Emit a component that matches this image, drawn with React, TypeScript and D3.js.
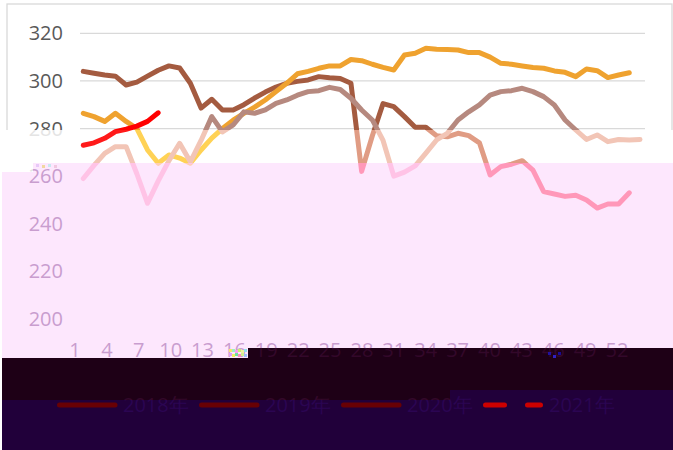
import React from 'react';
import * as d3 from 'd3';

const weekCategories: string[] = d3.range(1, 54).map(String);
const tickLabels: string[] = ['1', '4', '7', '10', '13', '16', '19', '22', '25', '28', '31', '34', '37', '40', '43', '46', '49', '52'];
const yTickValues: number[] = [200, 220, 240, 260, 280, 300, 320];
const legendNames: string[] = ['2018年', '2019年', '2020年', '2021年'];

const s2018: number[] = [304, 303.2, 302.5, 302, 298.3, 299.5, 302, 304.5, 306.3, 305.4, 299, 288.6, 292.3, 287.8, 287.8, 290, 292.8, 295.3, 297.4, 299, 299.8, 300.4, 301.8, 301.3, 301, 299, 262, 277, 290.5, 289.2, 285, 280.5, 280.5, 277, 276.5, 278, 277, 274, 260.5, 264, 265, 266.5, 262.5, 253.5, 252.5, 251.5, 252, 250, 246.6, 248.3, 248.3, 253];
const s2019: number[] = [286.4, 285, 283, 286.4, 283, 280, 271, 265.4, 268.9, 267.6, 265.4, 271, 276, 280, 283.5, 286.4, 289, 292, 295.5, 299, 303, 304, 305.3, 306.3, 306.3, 309, 308.5, 307, 305.7, 304.6, 310.9, 311.6, 313.7, 313.3, 313.2, 313, 311.9, 311.9, 310, 307.4, 307, 306.3, 305.6, 305.3, 304.2, 303.6, 301.8, 305, 304.3, 301.4, 302.5, 303.4];
const s2020: number[] = [259, 264.5, 269.6, 272.4, 272.4, 261, 248.6, 258, 266.5, 273.8, 266, 275, 285, 278.6, 281.5, 287, 286.4, 287.8, 290.6, 292, 294, 295.5, 295.9, 297.3, 296.4, 292.7, 287.8, 283.6, 275, 260, 261.7, 264.3, 269.7, 275.2, 278, 283.6, 287, 289.9, 294, 295.5, 295.9, 296.9, 295.5, 293.4, 289.9, 283.6, 279.4, 275.4, 277.3, 274.5, 275.4, 275.2, 275.4];
const s2021: number[] = [273, 274, 275.9, 278.7, 279.7, 281, 283, 286.6];
const allSeries: number[][] = [s2018, s2019, s2020, s2021];

const W = 673;
const H = 450;
const FONT = "'Open Sans', 'Noto Sans', sans-serif";

const x = d3.scalePoint<string>().domain(weekCategories).range([83.3, 640]);
const xLabel = d3.scalePoint<string>().domain(weekCategories).range([75, 627.6]);
const y = d3.scaleLinear().domain([200, 320]).range([319, 33.3]);
const line = d3
  .line<number>()
  .x((_d, i) => x(String(i + 1)) as number)
  .y((d) => y(d));

type Palette = {
  bg: string;
  grid: string;
  text: string;
  border: string;
  lines: string[];
  legendLines: string[];
  legendText: string;
};

const palA: Palette = {
  bg: '#FFFFFF', grid: '#D9D9D9', text: '#595959', border: '#D9D9D9',
  lines: ['#A45B40', '#EFA22F', '#B6897F', '#FF0000'],
  legendLines: ['#A45B40', '#EFA22F', '#B6897F', '#FF0000'], legendText: '#595959',
};
const palB: Palette = {
  bg: '#FFFFFF', grid: '#EEEEEE', text: '#E4E4E4', border: '#FFFFFF',
  lines: ['#E09C84', '#FFD255', '#F2C5B6', '#FF1A1A'],
  legendLines: ['#E09C84', '#FFD255', '#F2C5B6', '#FF1A1A'], legendText: '#E4E4E4',
};
const palC: Palette = {
  bg: '#FDE7FD', grid: '#FDE7FD', text: '#C99DCF', border: '#FDE7FD',
  lines: ['#FF98B9', '#FFCFB0', '#FFC3E6', '#FF5080'],
  legendLines: ['#FF98B9', '#FFCFB0', '#FFC3E6', '#FF5080'], legendText: '#C99DCF',
};
const palD: Palette = {
  bg: '#1E0016', grid: '#1E0016', text: '#33082A', border: '#1E0016',
  lines: ['#4A0012', '#4A0012', '#4A0012', '#8A0000'],
  legendLines: ['#4A0012', '#4A0012', '#4A0012', '#8A0000'], legendText: '#33082A',
};
const palE: Palette = {
  bg: '#21003A', grid: '#21003A', text: '#2B0552', border: '#21003A',
  lines: ['#6A0000', '#6A0000', '#6A0000', '#CC0000'],
  legendLines: ['#680004', '#680004', '#680004', '#CC0000'], legendText: '#2B0552',
};

const clipB = '0,130 673,130 673,163 33,163 33,172 0,172';
const clipC = '2,172 33,172 33,163 673,163 673,348 248,348 248,358 2,358';
const clipD = '2,358 248,358 248,348 673,348 673,390 450,390 450,400 2,400';
const clipE = '2,400 450,400 450,390 673,390 673,450 2,450';

function Chart({ p }: { p: Palette }) {
  const legendStart = (i: number) => 57 + i * 142;
  return (
    <g>
      <rect x={0} y={0} width={W} height={H} fill={p.bg} />
      <rect x={7} y={4} width={665} height={520} fill="none" stroke={p.border} strokeWidth={1.3} />
      {yTickValues.map((v) => (
        <line key={'g' + v} x1={80} x2={645} y1={y(v)} y2={y(v)} stroke={p.grid} strokeWidth={1.3} />
      ))}
      {yTickValues.map((v) => (
        <text key={'yl' + v} x={63} y={y(v)} dy="0.35em" textAnchor="end" fontSize={20} fontFamily={FONT} fill={p.text}>
          {v}
        </text>
      ))}
      {tickLabels.map((t) => (
        <text key={'xl' + t} x={xLabel(t)} y={357} textAnchor="middle" fontSize={20} fontFamily={FONT} fill={p.text}>
          {t}
        </text>
      ))}
      {allSeries.map((s, i) => (
        <path key={'s' + i} d={line(s) || ''} fill="none" stroke={p.lines[i]} strokeWidth={5} strokeLinejoin="round" strokeLinecap="round" />
      ))}
      {legendNames.map((name, i) => (
        <g key={'lg' + i}>
          {i < 3 ? (
            <line x1={legendStart(i) + 2.5} x2={legendStart(i) + 58} y1={405} y2={405} stroke={p.legendLines[i]} strokeWidth={5} strokeLinecap="round" />
          ) : (
            <line x1={legendStart(i) + 2.5} x2={legendStart(i) + 57.5} y1={405} y2={405} stroke={p.legendLines[i]} strokeWidth={5} strokeLinecap="round" strokeDasharray="19 23 13 100" />
          )}
          <text x={legendStart(i) + 66} y={405} dy="0.35em" fontSize={20} fontFamily={FONT} fill={p.legendText}>
            {name}
          </text>
        </g>
      ))}
    </g>
  );
}

const noise: [number, number, string][] = [
  [229, 349, '#F4E86A'], [232, 349, '#9CF0C8'], [235, 350, '#F8A0F0'], [238, 349, '#C8F070'], [241, 350, '#F0F0A0'], [244, 349, '#90E0F0'],
  [229, 353, '#E0A0F8'], [232, 354, '#F0F060'], [235, 353, '#70E0A0'], [238, 354, '#F890C0'], [241, 353, '#D0F090'], [244, 354, '#A0C0F8'],
  [36, 164, '#E8C8F8'], [42, 165, '#F0D8A0'], [48, 164, '#C8E8F0'], [54, 165, '#F0C8E0'],
  [548, 352, '#2010A0'], [553, 355, '#3020C0'], [558, 352, '#1A0A90'],
];

export default function App() {
  return (
    <svg width={W} height={H} style={{ position: 'absolute', left: 0, top: 0, display: 'block' }}>
      <defs>
        <clipPath id="clipB"><polygon points={clipB} /></clipPath>
        <clipPath id="clipC"><polygon points={clipC} /></clipPath>
        <clipPath id="clipD"><polygon points={clipD} /></clipPath>
        <clipPath id="clipE"><polygon points={clipE} /></clipPath>
      </defs>
      <Chart p={palA} />
      <g clipPath="url(#clipB)"><Chart p={palB} /></g>
      <g clipPath="url(#clipC)"><Chart p={palC} /></g>
      <g clipPath="url(#clipD)"><Chart p={palD} /></g>
      <g clipPath="url(#clipE)"><Chart p={palE} /></g>
      {noise.map(([nx, ny, c], i) => (
        <rect key={'n' + i} x={nx} y={ny} width={3} height={3} fill={c} />
      ))}
    </svg>
  );
}
